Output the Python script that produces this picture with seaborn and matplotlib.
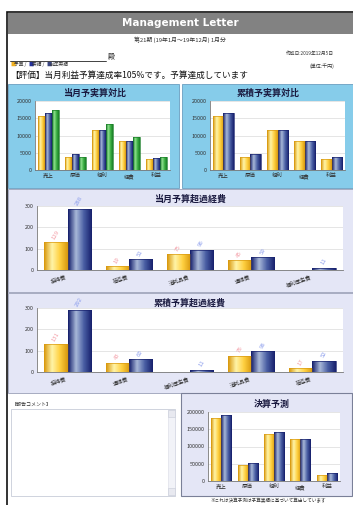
import numpy as np
import pandas as pd
import matplotlib
matplotlib.use('Agg')
import matplotlib.pyplot as plt
import seaborn as sns
from matplotlib.patches import Rectangle
from matplotlib.colors import LinearSegmentedColormap

# データ
cats_pl = ['売上', '原価', '粗利', '経費', '利益']
month_budget = [15600, 3800, 11600, 8300, 3200]
month_actual = [16600, 4600, 11600, 8300, 3600]
month_prev = [17300, 3700, 13200, 9600, 3900]

cum_budget = [15600, 3900, 11600, 8300, 3300]
cum_actual = [16500, 4700, 11600, 8300, 3700]

over_m_cats = ['接待費', '荷造費', '消耗品費', '通信費', '福利厚生費']
over_m_budget = [129, 19, 75, 45, 0]
over_m_actual = [288, 51, 96, 59, 11]

over_c_cats = ['接待費', '通信費', '福利厚生費', '消耗品費', '荷造費']
over_c_budget = [131, 43, 0, 76, 17]
over_c_actual = [292, 60, 11, 98, 52]

fc_budget = [183600, 45400, 137200, 122700, 18400]
fc_actual = [192300, 52200, 142000, 122700, 22200]

sns.set_theme(style='white')
plt.rcParams['font.family'] = ['Noto Sans CJK JP', 'DejaVu Sans']

W, H = 353, 505
fig = plt.figure(figsize=(3.53, 5.05), dpi=100)


def box(x0, y0, x1, y1):
    return [x0 / W, 1 - y1 / H, (x1 - x0) / W, (y1 - y0) / H]


def rect(x0, y0, x1, y1, fc, ec='none', lw=0.8, z=-5):
    fig.patches.append(Rectangle((x0 / W, 1 - y1 / H), (x1 - x0) / W, (y1 - y0) / H,
                                 transform=fig.transFigure, facecolor=fc,
                                 edgecolor=ec, lw=lw, zorder=z))


def txt(x, y, s, **kw):
    fig.text(x / W, 1 - y / H, s, **kw)


# 棒の色 (暗い縁, 明るい中心)
YEL = ('#D99A10', '#FFF4A8', '#FFD040')
BLU = ('#18226E', '#A8B8D8', '#4A5FA4')
GRN = ('#1A7F28', '#8EE08E', '#3CB043')


def bar_panel(px, cats, series, colors, ymax, yticks, rot=0, labels=False):
    ax = fig.add_axes(box(*px))
    names = ['s%d' % i for i in range(len(series))]
    df = pd.DataFrame({'cat': [c for s in series for c in cats],
                       'ser': [n for n, s in zip(names, series) for _ in s],
                       'val': [v for s in series for v in s]})
    sns.barplot(data=df, x='cat', y='val', hue='ser', order=cats, hue_order=names,
                palette=[c[2] for c in colors], width=0.76, saturation=1,
                legend=False, ax=ax, edgecolor='none')
    grad = np.linspace(0, 1, 32).reshape(1, -1)
    for cont, col in zip(ax.containers, colors):
        cmap = LinearSegmentedColormap.from_list('g', [col[0], col[1], col[2], col[0]])
        for p in cont:
            h = p.get_height()
            if h <= 0:
                continue
            x, w = p.get_x(), p.get_width()
            im = ax.imshow(grad, extent=[x, x + w, 0, h], aspect='auto', cmap=cmap, zorder=2)
            im.set_clip_path(p)
            p.set_facecolor('none')
            p.set_edgecolor(col[0])
            p.set_linewidth(0.5)
            p.set_zorder(3)
            if labels:
                lc = '#F39AA4' if col is YEL else '#8A9CEC'
                ax.text(x + w / 2, h + ymax * 0.03, str(int(h)), rotation=60,
                        ha='center', va='bottom', fontsize=4.3, color=lc)
    ax.set_xlim(-0.5, len(cats) - 0.5)
    ax.set_ylim(0, ymax)
    ax.set_yticks(yticks)
    ax.set_yticklabels([str(t) for t in yticks])
    ax.set_xlabel('')
    ax.set_ylabel('')
    ax.set_facecolor('white')
    ax.yaxis.grid(True, color='#DADADA', lw=0.5)
    ax.set_axisbelow(True)
    for s in ['top', 'right']:
        ax.spines[s].set_visible(False)
    for s in ['left', 'bottom']:
        ax.spines[s].set_color('#777777')
        ax.spines[s].set_linewidth(0.6)
    ax.tick_params(axis='both', labelsize=3.9, length=1.5, pad=1, colors='#333333')
    if rot:
        plt.setp(ax.get_xticklabels(), rotation=rot, ha='right')
    return ax


# ページ枠とヘッダー
rect(7, 12, 356, 506, 'white', ec='#111111', lw=1.2, z=-10)
rect(8, 13, 356, 34, '#828282')
txt(180, 23.5, 'Management Letter', ha='center', va='center', color='white',
    fontsize=7.5, fontweight='bold', family='DejaVu Sans')
txt(180, 40, '第21期 (19年1月〜19年12月) 1月分', ha='center', va='center', fontsize=4.2, color='#333333')
fig.lines.append(plt.Line2D([10 / W, 106 / W], [1 - 60.5 / H, 1 - 60.5 / H],
                            transform=fig.transFigure, color='#222222', lw=0.6))
txt(108, 56, '殿', ha='left', va='center', fontsize=5, color='#222222')
txt(334, 53, '作成日:2019年12月5日', ha='right', va='center', fontsize=3.4, color='#333333')
txt(334, 66, '(単位:千円)', ha='right', va='center', fontsize=3.6, color='#333333')
txt(10, 64.5, '■', ha='left', va='center', fontsize=3.8, color='#F0B020')
txt(14, 64.5, '予算 /', ha='left', va='center', fontsize=3.4, color='#333333')
txt(28, 64.5, '■', ha='left', va='center', fontsize=3.8, color='#24309A')
txt(32, 64.5, '実績 /', ha='left', va='center', fontsize=3.4, color='#333333')
txt(46, 64.5, '■', ha='left', va='center', fontsize=3.8, color='#3A4680')
txt(50, 64.5, '前年実績', ha='left', va='center', fontsize=3.4, color='#333333')
txt(10, 75.5, '【評価】当月利益予算達成率105%です。予算達成しています', ha='left', va='center',
    fontsize=6.2, color='#111111')

# 上段パネル
rect(8, 84, 179, 188, '#86CCEA', ec='#6A9EC0', lw=0.6)
rect(182, 84, 356, 188, '#86CCEA', ec='#6A9EC0', lw=0.6)
txt(95, 93.5, '当月予実算対比', ha='center', va='center', fontsize=6.5, color='#1A1A40', fontweight='bold')
txt(268, 93.5, '累積予実算対比', ha='center', va='center', fontsize=6.5, color='#1A1A40', fontweight='bold')
bar_panel((35, 101, 170, 170), cats_pl, [month_budget, month_actual, month_prev],
          [YEL, BLU, GRN], 20000, [0, 5000, 10000, 15000, 20000])
bar_panel((210, 101, 345, 170), cats_pl, [cum_budget, cum_actual],
          [YEL, BLU], 20000, [0, 5000, 10000, 15000, 20000])

# 予算超過経費
rect(8, 189, 356, 292, '#E4E6F6', ec='#9AA0B8', lw=0.6)
rect(8, 293, 356, 393, '#E4E6F6', ec='#9AA0B8', lw=0.6)
txt(190, 199, '当月予算超過経費', ha='center', va='center', fontsize=6.5, color='#1A1A40', fontweight='bold')
txt(190, 303, '累積予算超過経費', ha='center', va='center', fontsize=6.5, color='#1A1A40', fontweight='bold')
bar_panel((37, 206, 343, 270), over_m_cats, [over_m_budget, over_m_actual],
          [YEL, BLU], 300, [0, 100, 200, 300], rot=20, labels=True)
bar_panel((37, 308, 343, 372), over_c_cats, [over_c_budget, over_c_actual],
          [YEL, BLU], 300, [0, 100, 200, 300], rot=20, labels=True)

# 報告コメント
txt(12, 404.5, '【報告コメント】', ha='left', va='center', fontsize=3.6, color='#333333')
rect(11, 409, 175, 496, 'white', ec='#C8CCD8', lw=0.6)
rect(168, 410, 175, 495, '#F2F3F8', ec='#D8DAE4', lw=0.4)
rect(168, 410, 175, 417, '#E8E9F0', ec='#C8CCD8', lw=0.4)
rect(168, 488, 175, 495, '#E8E9F0', ec='#C8CCD8', lw=0.4)

# 決算予測
rect(181, 393, 352, 496, '#E4E6F6', ec='#7A8098', lw=0.8)
txt(272, 404, '決算予測', ha='center', va='center', fontsize=6.5, color='#1A1A40', fontweight='bold')
bar_panel((208, 412, 340, 481), cats_pl, [fc_budget, fc_actual],
          [YEL, BLU], 200000, [0, 50000, 100000, 150000, 200000])
txt(268, 500, '※これは決算予測は予算実績に基づいて算出しています', ha='center', va='center',
    fontsize=3.3, color='#333333')

fig.savefig('out.png', dpi=100)
